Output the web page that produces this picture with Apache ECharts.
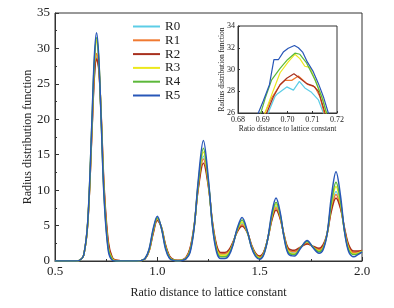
<!DOCTYPE html>
<html>
<head>
<meta charset="utf-8">
<script src="https://cdn.jsdelivr.net/npm/echarts@6/dist/echarts.min.js"></script>
<style>
  html, body { margin: 0; padding: 0; background: #fff; }
  #chart { width: 394px; height: 308px; }
</style>
</head>
<body>
<div id="chart"></div>
<script>
// ratio r / a (shared x grid of the main plot)
var ratio = [0.50, 0.60, 0.62, 0.64, 0.66, 0.68, 0.692, 0.703, 0.714, 0.726, 0.74, 0.76, 0.78, 0.80, 0.85, 0.90,
    0.92, 0.94, 0.96, 0.98, 1.00, 1.02, 1.04, 1.06, 1.08, 1.10, 1.12, 1.14, 1.16, 1.18, 1.20, 1.225, 1.25, 1.27, 1.29, 1.31,
    1.33, 1.35, 1.37, 1.39, 1.414, 1.44, 1.46, 1.48, 1.50, 1.52, 1.54, 1.56, 1.58, 1.60, 1.62, 1.64, 1.67, 1.70, 1.732,
    1.76, 1.79, 1.81, 1.83, 1.85, 1.873, 1.895, 1.915, 1.935, 1.96, 1.98, 2.00];

var r0 = [0, 0, 0.1, 0.8, 5.3, 18.0, 26.0, 28.8, 27.2, 20.0, 9.8, 2.3, 0.35, 0.05, 0, 0,
    0.05, 0.3, 1.5, 4.2, 6.0, 4.7, 2.1, 0.55, 0.15, 0.05, 0.1, 0.4, 1.6, 4.9, 10.6, 14.8, 10.7, 5.1, 1.8, 0.9,
    0.9, 1.3, 2.6, 4.2, 5.3, 4.0, 2.1, 0.95, 0.5, 1.2, 3.2, 6.1, 7.8, 6.3, 3.4, 1.5, 1.1, 1.9, 2.6,
    2.0, 1.5, 2.0, 3.9, 7.6, 9.8, 7.8, 4.3, 1.9, 1.1, 1.2, 1.4];
var r1 = [0, 0, 0.1, 0.8, 5.3, 18.0, 26.3, 29.3, 27.4, 20.2, 10.1, 2.5, 0.4, 0.1, 0, 0,
    0.05, 0.3, 1.45, 4.1, 5.9, 4.7, 2.2, 0.6, 0.15, 0.08, 0.12, 0.45, 1.7, 4.9, 10.4, 14.4, 10.6, 5.2, 2.0, 1.0,
    1.05, 1.4, 2.6, 4.1, 5.1, 4.0, 2.2, 1.0, 0.6, 1.2, 3.2, 6.0, 7.5, 6.1, 3.5, 1.6, 1.3, 1.9, 2.5,
    2.0, 1.6, 2.1, 3.9, 7.3, 9.4, 7.6, 4.4, 2.1, 1.2, 1.3, 1.5];
var r2 = [0, 0, 0.1, 0.8, 5.3, 17.8, 25.8, 28.5, 27.0, 20.4, 10.5, 2.8, 0.5, 0.1, 0, 0,
    0.05, 0.3, 1.4, 3.9, 5.7, 4.8, 2.3, 0.7, 0.2, 0.1, 0.15, 0.5, 1.8, 5.0, 10.2, 13.8, 10.4, 5.4, 2.2, 1.2,
    1.2, 1.6, 2.7, 4.1, 4.9, 4.0, 2.3, 1.1, 0.7, 1.3, 3.2, 5.8, 7.2, 6.0, 3.6, 1.8, 1.5, 2.0, 2.4,
    2.1, 1.8, 2.3, 3.9, 7.0, 8.9, 7.4, 4.6, 2.3, 1.4, 1.4, 1.5];
var r3 = [0, 0, 0.1, 0.8, 5.4, 18.8, 27.5, 31.2, 28.4, 19.9, 9.5, 2.0, 0.3, 0.05, 0, 0,
    0.05, 0.3, 1.5, 4.3, 6.0, 4.7, 2.0, 0.5, 0.1, 0.05, 0.1, 0.4, 1.5, 4.8, 10.8, 15.4, 10.8, 5.0, 1.7, 0.8,
    0.8, 1.2, 2.5, 4.3, 5.5, 4.0, 2.1, 0.9, 0.45, 1.1, 3.2, 6.3, 8.0, 6.4, 3.4, 1.4, 1.0, 1.9, 2.7,
    2.0, 1.4, 1.9, 3.9, 7.9, 10.5, 8.1, 4.2, 1.8, 1.0, 1.1, 1.4];
var r4 = [0, 0, 0.1, 0.8, 5.5, 19.2, 28.0, 31.5, 28.3, 19.7, 9.2, 1.8, 0.2, 0, 0, 0,
    0.05, 0.35, 1.6, 4.4, 6.1, 4.7, 1.9, 0.45, 0.1, 0.05, 0.1, 0.35, 1.4, 4.8, 11.0, 15.9, 11.0, 4.9, 1.5, 0.6,
    0.6, 1.0, 2.4, 4.4, 5.8, 4.1, 2.0, 0.8, 0.35, 1.0, 3.2, 6.5, 8.3, 6.6, 3.3, 1.2, 0.9, 1.9, 2.8,
    2.0, 1.3, 1.8, 3.9, 8.2, 11.1, 8.4, 4.1, 1.6, 0.9, 1.0, 1.3];
var r5 = [0, 0, 0.1, 0.8, 5.6, 19.5, 28.7, 32.2, 28.7, 19.5, 8.8, 1.5, 0.1, 0, 0, 0,
    0.05, 0.35, 1.7, 4.6, 6.3, 4.6, 1.7, 0.35, 0.05, 0, 0.05, 0.3, 1.2, 4.7, 11.4, 17.0, 11.4, 4.7, 1.2, 0.35,
    0.35, 0.8, 2.3, 4.6, 6.15, 4.2, 1.9, 0.65, 0.25, 0.9, 3.2, 6.9, 8.9, 6.9, 3.2, 1.0, 0.7, 1.8, 2.9,
    1.9, 1.1, 1.6, 3.9, 9.0, 12.6, 9.2, 4.1, 1.3, 0.6, 0.9, 1.3];

// close-up of the first peak (inset), [ratio, value]
var z0 = [[0.6915, 25.5], [0.6922, 26.0], [0.6949, 27.5], [0.6956, 27.7], [0.6997, 28.4], [0.7024, 28.1], [0.7048, 28.9],
    [0.707, 28.3], [0.7097, 27.9], [0.7125, 27.2], [0.7145, 26.0], [0.715, 25.5]];
var z1 = [[0.6903, 25.5], [0.6909, 26.0], [0.6936, 27.4], [0.697, 28.6], [0.699, 29.0], [0.7017, 29.0], [0.7044, 29.4],
    [0.7064, 29.0], [0.7084, 28.6], [0.7111, 28.4], [0.7131, 27.5], [0.7148, 26.0], [0.7152, 25.5]];
var z2 = [[0.691, 25.5], [0.6916, 26.0], [0.6943, 27.5], [0.697, 28.6], [0.6997, 29.2], [0.7026, 29.6], [0.705, 29.2],
    [0.7077, 28.7], [0.7104, 28.5], [0.7125, 28.0], [0.7152, 26.0], [0.7156, 25.5]];
var z3 = [[0.6903, 25.5], [0.6909, 26.0], [0.6943, 28.1], [0.697, 29.7], [0.7003, 30.7], [0.703, 31.4], [0.705, 31.0],
    [0.707, 30.3], [0.709, 30.2], [0.7118, 28.7], [0.7145, 27.1], [0.7156, 26.0], [0.716, 25.5]];
var z4 = [[0.6885, 25.5], [0.6892, 26.0], [0.6912, 27.5], [0.6936, 29.05], [0.697, 30.1], [0.700, 30.9], [0.703, 31.5],
    [0.705, 31.4], [0.7077, 30.6], [0.7111, 29.05], [0.7138, 27.5], [0.7158, 26.0], [0.7163, 25.5]];
var z5 = [[0.6875, 25.5], [0.6882, 26.0], [0.6902, 27.1], [0.6927, 28.6], [0.6945, 30.9], [0.6963, 30.9], [0.6983, 31.6],
    [0.7003, 31.95], [0.7028, 32.2], [0.7044, 32.0], [0.7061, 31.6], [0.708, 30.7], [0.7104, 29.8], [0.7125, 28.7],
    [0.7145, 27.5], [0.7165, 26.0], [0.717, 25.5]];

var names = ['R0', 'R1', 'R2', 'R3', 'R4', 'R5'];
var colors = ['#5ccde6', '#f07a32', '#a8301e', '#ece81c', '#5cb83a', '#2857b8'];

var font = 'Liberation Serif';
var chart = echarts.init(document.getElementById('chart'));

function pairs(ys) {
    return ratio.map(function (x, i) { return [x, ys[i]]; });
}

var mainData = [r0, r1, r2, r3, r4, r5];
var zoomData = [z0, z1, z2, z3, z4, z5];
var series = [];
names.forEach(function (n, i) {
    series.push({
        name: n, type: 'line', xAxisIndex: 0, yAxisIndex: 0,
        data: pairs(mainData[i]), smooth: 0.35, showSymbol: false,
        lineStyle: { width: 1.5, color: colors[i] }, itemStyle: { color: colors[i] }
    });
});
names.forEach(function (n, i) {
    series.push({
        name: n, type: 'line', xAxisIndex: 1, yAxisIndex: 1,
        data: zoomData[i], showSymbol: false, clip: true,
        lineStyle: { width: 1.2, color: colors[i] }, itemStyle: { color: colors[i] }
    });
});

var axisCommon = {
    nameMoveOverlap: false,
    axisLine: { lineStyle: { color: '#333', width: 1 } },
    axisTick: { inside: true, length: 4, lineStyle: { color: '#333' } },
    minorTick: { show: true, splitNumber: 2, length: 2, lineStyle: { color: '#333' } },
    splitLine: { show: false }
};

chart.setOption({
    animation: false,
    legend: {
        orient: 'vertical', left: 128, top: 15,
        itemWidth: 27, itemHeight: 2, itemGap: 0.8, icon: 'rect',
        data: names,
        textStyle: { fontFamily: font, fontSize: 13, color: '#222' }
    },
    grid: [
        { left: 55, right: 32, top: 13, bottom: 47, show: true, borderColor: '#333', borderWidth: 1 },
        { left: 238, top: 26, width: 99, height: 87, show: true, borderColor: '#333', borderWidth: 1 }
    ],
    xAxis: [
        Object.assign({}, axisCommon, {
            gridIndex: 0, type: 'value', min: 0.5, max: 2.0, interval: 0.5,
            name: 'Ratio distance to lattice constant', nameLocation: 'middle', nameGap: 26,
            nameTextStyle: { fontFamily: font, fontSize: 12, color: '#222' },
            axisLabel: { fontFamily: font, fontSize: 13, color: '#222', margin: 4,
                formatter: function (v) { return v.toFixed(1); } }
        }),
        Object.assign({}, axisCommon, {
            gridIndex: 1, type: 'value', min: 0.68, max: 0.72, interval: 0.01,
            name: 'Ratio distance to lattice constant', nameLocation: 'middle', nameGap: 12,
            nameTextStyle: { fontFamily: font, fontSize: 7.5, color: '#222' },
            axisTick: { inside: true, length: 2, lineStyle: { color: '#333' } },
            minorTick: { show: false },
            axisLabel: { fontFamily: font, fontSize: 8, color: '#222', margin: 3,
                formatter: function (v) { return v.toFixed(2); } }
        })
    ],
    yAxis: [
        Object.assign({}, axisCommon, {
            gridIndex: 0, type: 'value', min: 0, max: 35, interval: 5,
            name: 'Radius distribution function', nameLocation: 'middle', nameGap: 21,
            nameTextStyle: { fontFamily: font, fontSize: 12, color: '#222' },
            axisLabel: { fontFamily: font, fontSize: 13, color: '#222', margin: 5 }
        }),
        Object.assign({}, axisCommon, {
            gridIndex: 1, type: 'value', min: 26, max: 34, interval: 2,
            name: 'Radius distribution function', nameLocation: 'middle', nameGap: 12,
            nameTextStyle: { fontFamily: font, fontSize: 7.5, color: '#222' },
            axisTick: { inside: true, length: 2, lineStyle: { color: '#333' } },
            minorTick: { show: false },
            axisLabel: { fontFamily: font, fontSize: 8, color: '#222', margin: 3 }
        })
    ],
    series: series
});
</script>
</body>
</html>
